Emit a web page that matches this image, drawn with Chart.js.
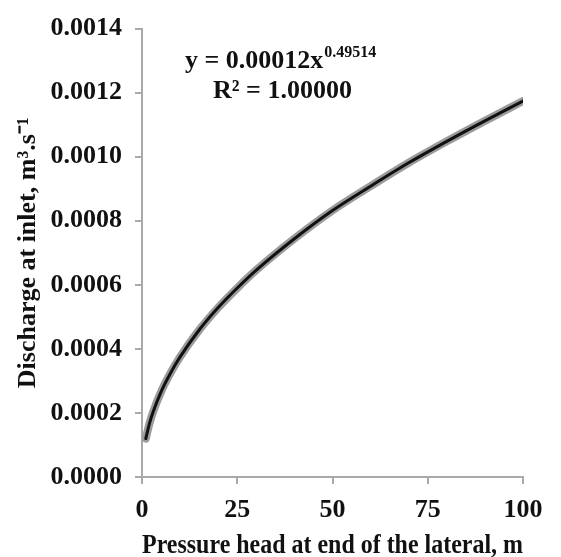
<!DOCTYPE html>
<html>
<head>
<meta charset="utf-8">
<script src="https://cdn.jsdelivr.net/npm/chart.js@4.4.1/dist/chart.umd.min.js"></script>
<style>
  html, body { margin: 0; padding: 0; background: #fff; }
  #dischargeChart { display: block; }
</style>
</head>
<body>
<canvas id="dischargeChart" width="561" height="557"></canvas>
<script>
// values
const pressureHead = [1, 2, 3, 5, 7.5, 10, 15, 20, 25, 30, 40, 50, 60, 70, 80, 90, 100];
const discharge = [0.000120, 0.000169, 0.000206, 0.000266, 0.000325, 0.000375, 0.000459, 0.000529,
                   0.000590, 0.000646, 0.000744, 0.000832, 0.000908, 0.000981, 0.001048, 0.001112, 0.001174];
const xTicks = [0, 25, 50, 75, 100];
const yTicks = ['0.0000', '0.0002', '0.0004', '0.0006', '0.0008', '0.0010', '0.0012', '0.0014'];

const axisGray = '#a9a9a9';
const serif = "'Liberation Serif', serif";

function points() {
    return pressureHead.map((h, i) => ({ x: h, y: discharge[i] }));
}

// trendline equation text
const equationLabel = {
    id: 'equationLabel',
    afterDatasetsDraw(chart) {
        const ctx = chart.ctx;
        const area = chart.chartArea;
        ctx.save();
        ctx.fillStyle = '#111';
        ctx.textBaseline = 'alphabetic';
        ctx.textAlign = 'left';
        let x = area.left + 43;
        ctx.font = 'bold 26px ' + serif;
        const main = 'y = 0.00012x';
        ctx.fillText(main, x, area.top + 39);
        x += ctx.measureText(main).width;
        ctx.font = 'bold 16px ' + serif;
        ctx.fillText('0.49514', x + 1, area.top + 28);
        ctx.font = 'bold 26px ' + serif;
        ctx.fillText('R\u00B2 = 1.00000', area.left + 71, area.top + 69);
        ctx.restore();
    }
};

const ctx = document.getElementById('dischargeChart').getContext('2d');
const chart = new Chart(ctx, {
    type: 'line',
    data: {
        datasets: [
            {
                label: 'Measured',
                data: points(),
                order: 2,
                borderColor: '#9b9b9b',
                borderWidth: 8,
                borderCapStyle: 'round',
                pointRadius: 0,
                cubicInterpolationMode: 'monotone',
                fill: false
            },
            {
                label: 'Power trendline',
                data: points(),
                order: 1,
                borderColor: '#111111',
                borderWidth: 3,
                borderCapStyle: 'round',
                pointRadius: 0,
                cubicInterpolationMode: 'monotone',
                fill: false
            }
        ]
    },
    options: {
        responsive: false,
        devicePixelRatio: 1,
        animation: false,
        layout: { padding: { top: 24, right: 38, bottom: 0, left: 0 } },
        plugins: {
            legend: { display: false },
            tooltip: { enabled: false }
        },
        scales: {
            x: {
                type: 'linear',
                min: 0,
                max: 100,
                afterBuildTicks: (scale) => { scale.ticks = xTicks.map(v => ({ value: v })); },
                afterFit: (scale) => { scale.height = 80; },
                grid: { drawOnChartArea: false, color: axisGray, lineWidth: 2, tickLength: 7 },
                border: { color: axisGray, width: 2 },
                ticks: {
                    color: '#111',
                    padding: 11,
                    maxRotation: 0,
                    font: { family: serif, size: 26, weight: 'bold' }
                },
                title: {
                    display: true,
                    align: 'start',
                    text: 'Pressure head at end of the lateral, m',
                    color: '#111',
                    padding: { top: 0, bottom: 0 },
                    font: { family: serif, size: 28, weight: 'bold', lineHeight: 0.8 }
                }
            },
            y: {
                min: 0,
                max: 0.0014,
                afterBuildTicks: (scale) => { scale.ticks = yTicks.map(v => ({ value: parseFloat(v) })); },
                afterFit: (scale) => { scale.width = 142; },
                grid: { drawOnChartArea: false, color: axisGray, lineWidth: 2, tickLength: 7 },
                border: { color: axisGray, width: 2 },
                ticks: {
                    color: '#111',
                    padding: 13,
                    callback: (v) => Number(v).toFixed(4),
                    font: { family: serif, size: 26, weight: 'bold' }
                },
                title: {
                    display: true,
                    text: 'Discharge at inlet, m\u00B3.s\u207B\u00B9',
                    color: '#111',
                    padding: { top: 13, bottom: 0 },
                    font: { family: serif, size: 26, weight: 'bold' }
                }
            }
        }
    },
    plugins: [equationLabel]
});
</script>
</body>
</html>
